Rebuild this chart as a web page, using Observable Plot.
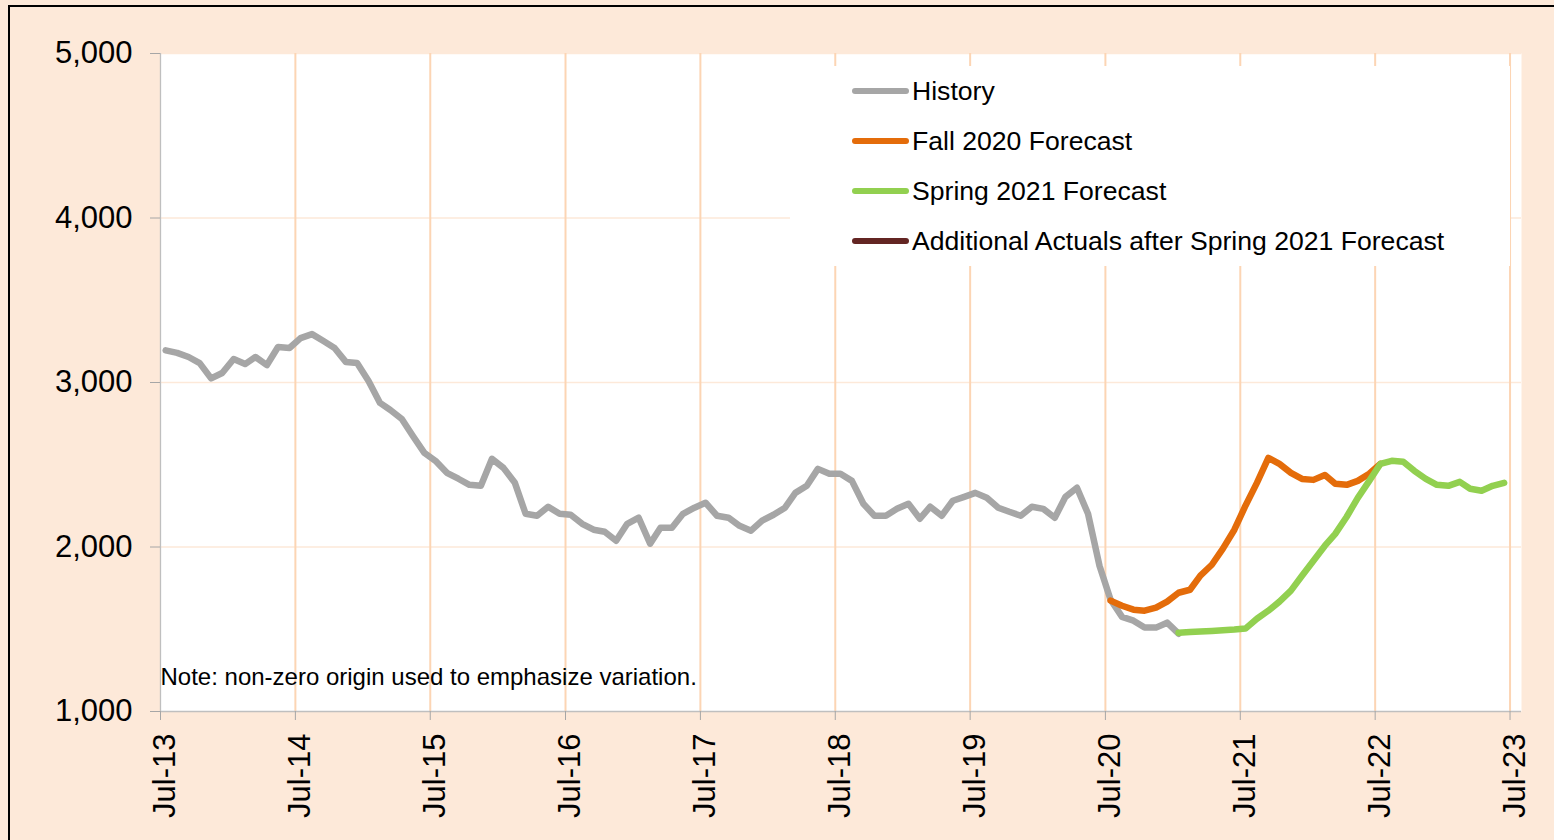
<!DOCTYPE html>
<html>
<head>
<meta charset="utf-8">
<script src="https://cdn.jsdelivr.net/npm/d3@7"></script>
<script src="https://cdn.jsdelivr.net/npm/@observablehq/plot@0.6"></script>
<style>
  html, body { margin: 0; padding: 0; background: #fde9d9; }
  #wrap { position: relative; width: 1554px; height: 840px; overflow: hidden; background: #fde9d9; font-family: "Liberation Sans", Arial, sans-serif; }
  #border { position: absolute; left: 8px; top: 5px; width: 1700px; height: 1000px; border: 2px solid #000; box-sizing: border-box; pointer-events: none; }
  #chart { position: absolute; left: 0; top: 0; }
  #legend { position: absolute; left: 790px; top: 66px; width: 720px; height: 200px; background: #fff; }
  .item { position: absolute; left: 62px; height: 30px; display: flex; align-items: center; font-size: 26.6px; color: #000; white-space: nowrap; }
  .sw { width: 57px; height: 6px; border-radius: 3px; margin-right: 3px; }
</style>
</head>
<body>
<div id="wrap">
  <div id="chart"></div>
  <div id="legend"></div>
  <div id="border"></div>
</div>
<script>
// ---- Data (monthly) ----
const seriesNames = ["History", "Fall 2020 Forecast", "Spring 2021 Forecast", "Additional Actuals after Spring 2021 Forecast"];
const seriesColors = ["#a6a6a6", "#e46c0a", "#92d050", "#632523"];

const historyStart = "2013-07";
const historyValues = [
  3195, 3180, 3155, 3118, 3025, 3058, 3143, 3112, 3155, 3106, 3216, 3210,
  3270, 3294, 3252, 3210, 3124, 3118, 3009, 2876, 2833, 2778, 2675, 2572,
  2524, 2451, 2415, 2378, 2372, 2536, 2481, 2390, 2202, 2190, 2245, 2202,
  2196, 2141, 2105, 2093, 2038, 2141, 2178, 2020, 2117, 2117, 2202, 2239,
  2269, 2190, 2178, 2129, 2099, 2160, 2196, 2239, 2329, 2372, 2475, 2445,
  2445, 2402, 2263, 2190, 2190, 2232, 2263, 2172, 2245, 2190, 2281, 2305,
  2329, 2299, 2239, 2214, 2190, 2245, 2232, 2178, 2305, 2360, 2202, 1886,
  1680, 1575, 1552, 1510, 1510, 1540, 1473
];

const fall2020Start = "2020-07";
const fall2020Values = [
  1674, 1643, 1619, 1613, 1631, 1668, 1722, 1740, 1826, 1892, 1990, 2105,
  2251, 2390, 2542, 2505, 2451, 2414, 2408, 2438, 2384, 2378, 2402, 2445,
  2505
];

const spring2021Start = "2021-01";
const spring2021Values = [
  1479, 1483, 1487, 1490, 1494, 1498, 1504, 1564, 1613, 1668, 1735, 1825,
  1916, 2008, 2080, 2184, 2299, 2402, 2505, 2524, 2518, 2463, 2414, 2378,
  2372, 2396, 2354, 2342, 2372, 2390
];

const additionalStart = "2023-07";
const additionalValues = [];

const xTickLabels = ["Jul-13","Jul-14","Jul-15","Jul-16","Jul-17","Jul-18","Jul-19","Jul-20","Jul-21","Jul-22","Jul-23"];
const yTicks = [1000, 2000, 3000, 4000, 5000];
const noteText = "Note: non-zero origin used to emphasize variation.";

// ---- Build table ----
const parseTick = d3.utcParse("%b-%y");
const tickDates = xTickLabels.map(parseTick);
function toRows(start, values, name) {
  const [y, m] = start.split("-").map(Number);
  return values.map((v, i) => ({ date: new Date(Date.UTC(y, m - 1 + i, 15)), value: v, series: name }));
}
const rows = [
  ...toRows(historyStart, historyValues, seriesNames[0]),
  ...toRows(fall2020Start, fall2020Values, seriesNames[1]),
  ...toRows(spring2021Start, spring2021Values, seriesNames[2]),
  ...toRows(additionalStart, additionalValues, seriesNames[3])
];

const xDomain = [tickDates[0], new Date(Date.UTC(2023, 7, 1))];

const lineMarks = seriesNames.map((name, i) =>
  Plot.line(rows.filter(r => r.series === name), {
    x: "date", y: "value", stroke: seriesColors[i], strokeWidth: 6.5,
    strokeLinejoin: "round", strokeLinecap: "round"
  })
);

const chart = Plot.plot({
  width: 1554,
  height: 840,
  marginLeft: 160,
  marginRight: 33,
  marginTop: 53,
  marginBottom: 129,
  style: { background: "transparent", fontFamily: "'Liberation Sans', Arial, sans-serif", fontSize: "31px", color: "#000" },
  x: { type: "utc", domain: xDomain },
  y: { domain: [1000, 5000] },
  marks: [
    Plot.frame({ fill: "#fff", stroke: null }),
    Plot.ruleY(yTicks.slice(1), { stroke: "#fde9d9", strokeWidth: 1.3 }),
    Plot.ruleX(tickDates.slice(1), { stroke: "#fcd5b4", strokeWidth: 2 }),
    Plot.ruleX([xDomain[0]], { stroke: "#bfbfbf", strokeWidth: 1.3 }),
    Plot.ruleY([1000], { stroke: "#bfbfbf", strokeWidth: 1.3 }),
    Plot.axisY({
      ticks: yTicks, tickFormat: d3.format(","), tickSize: 10, tickPadding: 18,
      stroke: "#a6a6a6", strokeOpacity: 1, fill: "#000", fontSize: 31, label: null
    }),
    // x tick marks only
    Plot.axisX({
      ticks: tickDates, tickFormat: () => "", tickSize: 9,
      stroke: "#a6a6a6", strokeOpacity: 1, label: null
    }),
    // x tick labels only, rotated
    Plot.axisX({
      ticks: tickDates, tickFormat: (d, i) => xTickLabels[i], tickSize: 0, tickPadding: 22,
      tickRotate: -90, dx: 5, fill: "#000", fontSize: 31, label: null
    }),
    Plot.text([noteText], {
      frameAnchor: "bottom-left", textAnchor: "start", lineAnchor: "bottom",
      dy: -27, fontSize: 24, fill: "#000"
    }),
    ...lineMarks
  ]
});
document.getElementById("chart").appendChild(chart);

// ---- Legend ----
const legend = document.getElementById("legend");
const legendTops = [10, 60, 110, 160];
seriesNames.forEach((name, i) => {
  const item = document.createElement("div");
  item.className = "item";
  item.style.top = legendTops[i] + "px";
  const sw = document.createElement("div");
  sw.className = "sw";
  sw.style.background = seriesColors[i];
  const label = document.createElement("span");
  label.textContent = name;
  item.appendChild(sw);
  item.appendChild(label);
  legend.appendChild(item);
});
</script>
</body>
</html>
